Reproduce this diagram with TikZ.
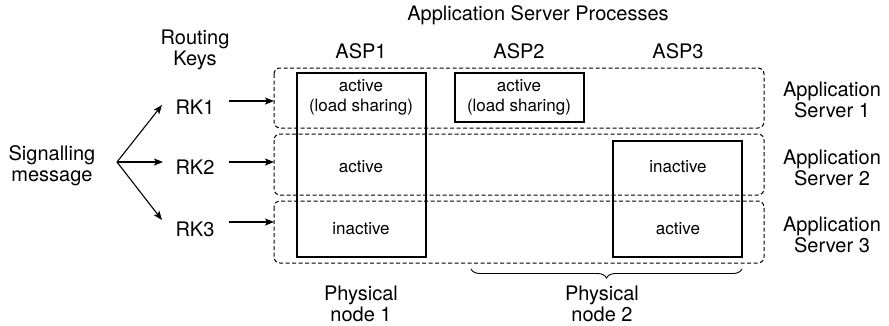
\documentclass[tikz,border=0pt]{standalone}
\usepackage{fontspec}
\setmainfont{TeX Gyre Heros}
\usetikzlibrary{arrows.meta,decorations.pathreplacing}

\begin{document}
\begin{tikzpicture}[x=1pt,y=-1pt,
  lbl/.style={align=center,inner sep=0pt,font=\fontsize{20}{21}\selectfont},
  boxtxt/.style={align=center,inner sep=0pt,font=\fontsize{17}{20}\selectfont},
  asgroup/.style={draw,dash pattern=on 4pt off 2.5pt,line width=1pt,rounded corners=6pt},
  aspbox/.style={draw,line width=1.2pt,fill=none},
  arr/.style={-{Stealth[length=9pt,width=7pt,inset=2pt]},line width=1.1pt}]
  \useasboundingbox (0,0) rectangle (889,325);

  % application server groups (dashed)
  \draw[asgroup] (274,68) rectangle (764,128);
  \draw[asgroup] (274,134) rectangle (764,195);
  \draw[asgroup] (274,201) rectangle (764,263);
  \coordinate (as1) at (274,98);
  \coordinate (as2) at (274,164);
  \coordinate (as3) at (274,232);

  % application server process boxes
  \draw[aspbox] (297,73) rectangle (426,257);
  \draw[aspbox] (455,73) rectangle (584,122);
  \draw[aspbox] (613,141) rectangle (742,257);

  % headings
  \node[lbl] (asptitle) at (538,15) {Application Server Processes};
  \node[lbl] (asp1) at (361,51) {ASP1};
  \node[lbl] (asp2) at (519,51) {ASP2};
  \node[lbl] (asp3) at (678,51) {ASP3};
  \node[lbl] (rkhead) at (195,50) {Routing\\Keys};

  % states
  \node[boxtxt] (s11) at (361,97) {active\\(load sharing)};
  \node[boxtxt] (s21) at (519,97) {active\\(load sharing)};
  \node[boxtxt] (s12) at (361,167) {active};
  \node[boxtxt] (s32) at (678,167) {inactive};
  \node[boxtxt] (s13) at (361,229) {inactive};
  \node[boxtxt] (s33) at (678,229) {active};

  % routing keys
  \node[lbl] (rk1) at (195,107) {RK1};
  \node[lbl] (rk2) at (195,167) {RK2};
  \node[lbl] (rk3) at (195,229) {RK3};

  \node[lbl] (sig) at (52,166) {Signalling\\message};
  \coordinate (fan) at (117,162);
  \coordinate (t1) at (162,105);
  \coordinate (t2) at (163,162);
  \coordinate (t3) at (162,220);
  \draw[arr] (fan) -- (t1);
  \draw[arr] (fan) -- (t2);
  \draw[arr] (fan) -- (t3);

  \draw[arr] ([xshift=14pt,yshift=6pt]rk1.east) -- ([yshift=6pt]rk1.east -| as1);
  \draw[arr] ([xshift=14pt,yshift=5pt]rk2.east) -- ([yshift=5pt]rk2.east -| as2);
  \draw[arr] ([xshift=14pt,yshift=7pt]rk3.east) -- ([yshift=7pt]rk3.east -| as3);

  % application server labels
  \node[lbl] (srv1) at (832,100) {Application\\Server 1};
  \node[lbl] (srv2) at (832,168) {Application\\Server 2};
  \node[lbl] (srv3) at (832,235) {Application\\Server 3};

  % physical nodes
  \node[lbl] (pn1) at (361,304) {Physical\\node 1};
  \coordinate (bl) at (471,269);
  \coordinate (br) at (742,269);
  \draw[line width=0.9pt,decorate,
        decoration={brace,mirror,amplitude=9pt}] (bl) -- (br);
  \node[lbl] (pn2) at (602,304) {Physical\\node 2};
\end{tikzpicture}
\end{document}
